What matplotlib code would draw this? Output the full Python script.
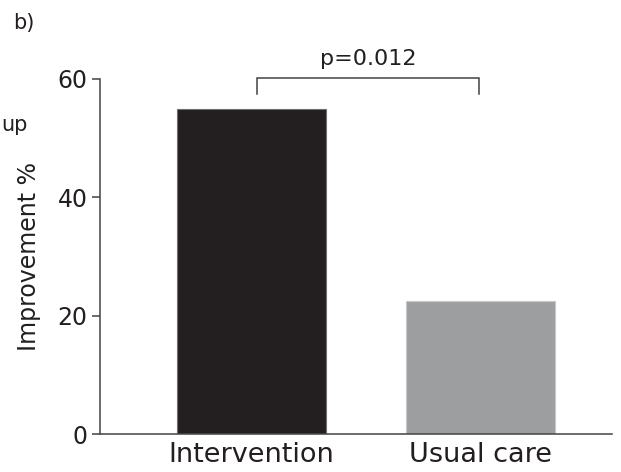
import matplotlib
matplotlib.use("Agg")
import matplotlib.pyplot as plt

# Data
groups = ["Intervention", "Usual care"]
improvement = [55.0, 22.5]
bar_colors = ["#231f20", "#9d9ea0"]
yticks = [0, 20, 40, 60]
p_label = "p=0.012"

plt.rcParams["font.family"] = ["DejaVu Sans"]
text_color = "#231f20"
axis_color = "#4a4a4a"

fig = plt.figure(figsize=(6.21, 4.72), dpi=100)
ax = fig.add_axes([100 / 621, 38 / 472, 512 / 621, 355 / 472])

x = list(range(len(groups)))
ax.bar(x, improvement, width=0.65, color=bar_colors,
       edgecolor=["#6e6e6e", "#c8c8c8"], linewidth=0.8, zorder=2)

ax.set_xlim(-0.66, 1.573)
ax.set_ylim(0, 60)
ax.set_yticks(yticks)
ax.set_xticks(x)
ax.set_xticklabels(groups)

for side in ("top", "right"):
    ax.spines[side].set_visible(False)
for side in ("left", "bottom"):
    ax.spines[side].set_color(axis_color)
    ax.spines[side].set_linewidth(1.15)

ax.tick_params(axis="y", length=6, width=1.15, color=axis_color,
               labelsize=17, labelcolor=text_color, pad=3)
ax.tick_params(axis="x", length=0, labelsize=19.5, labelcolor=text_color, pad=6)

ax.set_ylabel("Improvement %", fontsize=17, color=text_color, labelpad=12)

# Significance bracket between the two groups
bx0, bx1 = x[0] + 0.024, x[1] - 0.007
top, leg = 60.25, 57.5
ax.plot([bx0, bx0, bx1, bx1], [leg, top, top, leg], color=axis_color,
        lw=1.15, clip_on=False, solid_joinstyle="miter")
ax.text((bx0 + bx1) / 2, top + 1.5, p_label, ha="center", va="bottom",
        fontsize=16, color=text_color)

# Panel label and neighbouring panel text
fig.text(13 / 621, 1 - 23 / 472, "b)", fontsize=15, color=text_color,
         va="center", ha="left")
fig.text(1 / 621, 1 - 125 / 472, "up", fontsize=15, color=text_color,
         va="center", ha="left")

fig.savefig("out.png", dpi=100)
